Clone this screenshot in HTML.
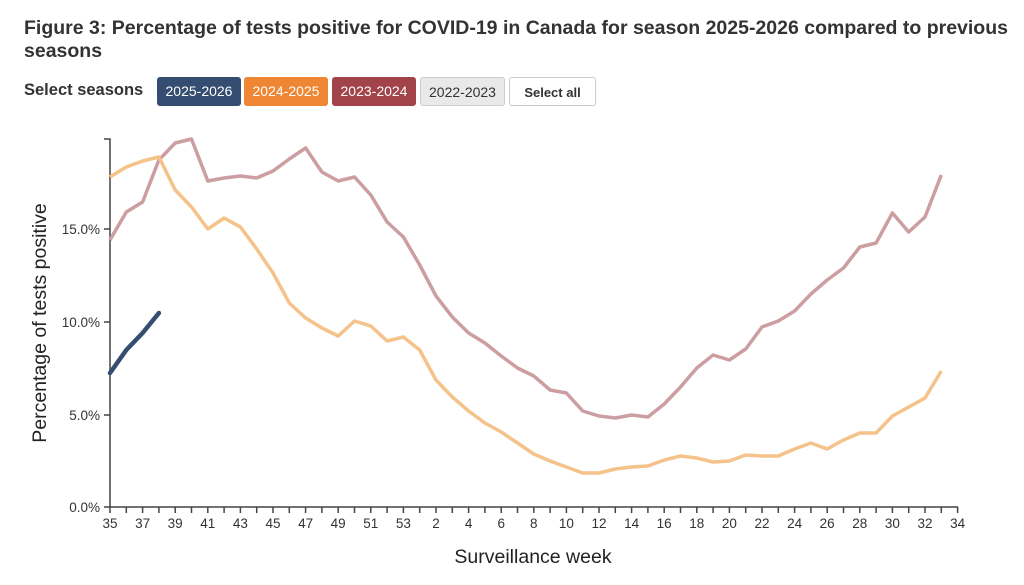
<!DOCTYPE html>
<html><head><meta charset="utf-8"><style>
body{margin:0;width:1024px;height:585px;background:#fff;font-family:"Liberation Sans",sans-serif;overflow:hidden;position:relative}
.t{position:absolute;left:24px;top:17px;width:990px;font-size:19.5px;font-weight:bold;color:#333;line-height:23px}
.sel{position:absolute;left:24px;top:81px;font-size:16.5px;font-weight:bold;color:#333}
.b{position:absolute;top:77px;height:29px;line-height:29px;font-size:14px;text-align:center;border-radius:3px;box-sizing:border-box}
</style></head><body>
<div class="t">Figure 3: Percentage of tests positive for COVID-19 in Canada for season 2025-2026 compared to previous seasons</div>
<div class="sel">Select seasons</div>
<div class="b" style="left:157px;width:84px;background:#344d70;color:#fff">2025-2026</div>
<div class="b" style="left:244px;width:84px;background:#ee8633;color:#fff">2024-2025</div>
<div class="b" style="left:332px;width:84px;background:#a2434a;color:#fff">2023-2024</div>
<div class="b" style="left:420px;width:85px;background:#e9e9ea;color:#333;border:1px solid #ccc">2022-2023</div>
<div class="b" style="left:509px;width:87px;background:#fff;color:#333;border:1px solid #ccc;font-weight:bold;font-size:13px">Select all</div>
<svg width="1024" height="585" style="position:absolute;left:0;top:0" font-family="Liberation Sans, sans-serif">
<g stroke="#444" stroke-width="1.5" fill="none">
<path d="M104,139H110V507H958"/>
<path d="M104,229H110M104,322H110M104,415H110M104,507H110"/>
<g id="tk"></g>
</g>
<g font-size="13.5" fill="#333" text-anchor="end">
<text x="100" y="234">15.0%</text><text x="100" y="327">10.0%</text><text x="100" y="420">5.0%</text><text x="100" y="512">0.0%</text>
</g>
<g id="xl" font-size="13.5" fill="#333" text-anchor="middle"></g>
<text x="533" y="563" font-size="19.5" fill="#222" text-anchor="middle">Surveillance week</text>
<text transform="translate(46,323) rotate(-90)" font-size="19.5" fill="#222" text-anchor="middle">Percentage of tests positive</text>
<polyline id="r" fill="none" stroke="#cc9ea1" stroke-width="3.5" stroke-linejoin="round"/>
<polyline id="o" fill="none" stroke="#f5c28a" stroke-width="3.5" stroke-linejoin="round"/>
<polyline id="bl" fill="none" stroke="#344d70" stroke-width="4.5" stroke-linecap="round" stroke-linejoin="round"/>
</svg>
<script>
var dx=16.3,x0=110;
var o=[177,167,161,157,190,207,229,218,227,249,273,303,318,328,336,321,326,341,337,350,380,397,411,423,432,443,454,461,467,473,473,469,467,466,460,456,458,462,461,455,456,456,449,443,449,440,433,433,416,407,398,371];
var r=[240,212,202,160,143,139,181,178,176,178,171,159,148,172,181,177,195,222,237,265,296,317,333,343,356,368,376,390,393,411,416,418,415,417,404,387,368,355,360,349,327,321,311,294,280,268,247,243,213,232,217,175];
var b=[373,350,333,313];
function p(a){return a.map(function(y,i){return (x0+i*dx).toFixed(1)+","+y}).join(" ")}
document.getElementById("o").setAttribute("points",p(o));
document.getElementById("r").setAttribute("points",p(r));
document.getElementById("bl").setAttribute("points",p(b));
var ns="http://www.w3.org/2000/svg",tk=document.getElementById("tk"),xl=document.getElementById("xl");
var wk=[];for(var w=35;w<=53;w++)wk.push(w);for(w=1;w<=34;w++)wk.push(w);
wk.forEach(function(w,i){var x=x0+i*dx;var l=document.createElementNS(ns,"path");l.setAttribute("d","M"+x+",507V513");tk.appendChild(l);
var lab=(i<=18)?(w%2==1):(w%2==0);if(lab){var t=document.createElementNS(ns,"text");t.setAttribute("x",x);t.setAttribute("y",528);t.textContent=w;xl.appendChild(t);}});
</script>
</body></html>
